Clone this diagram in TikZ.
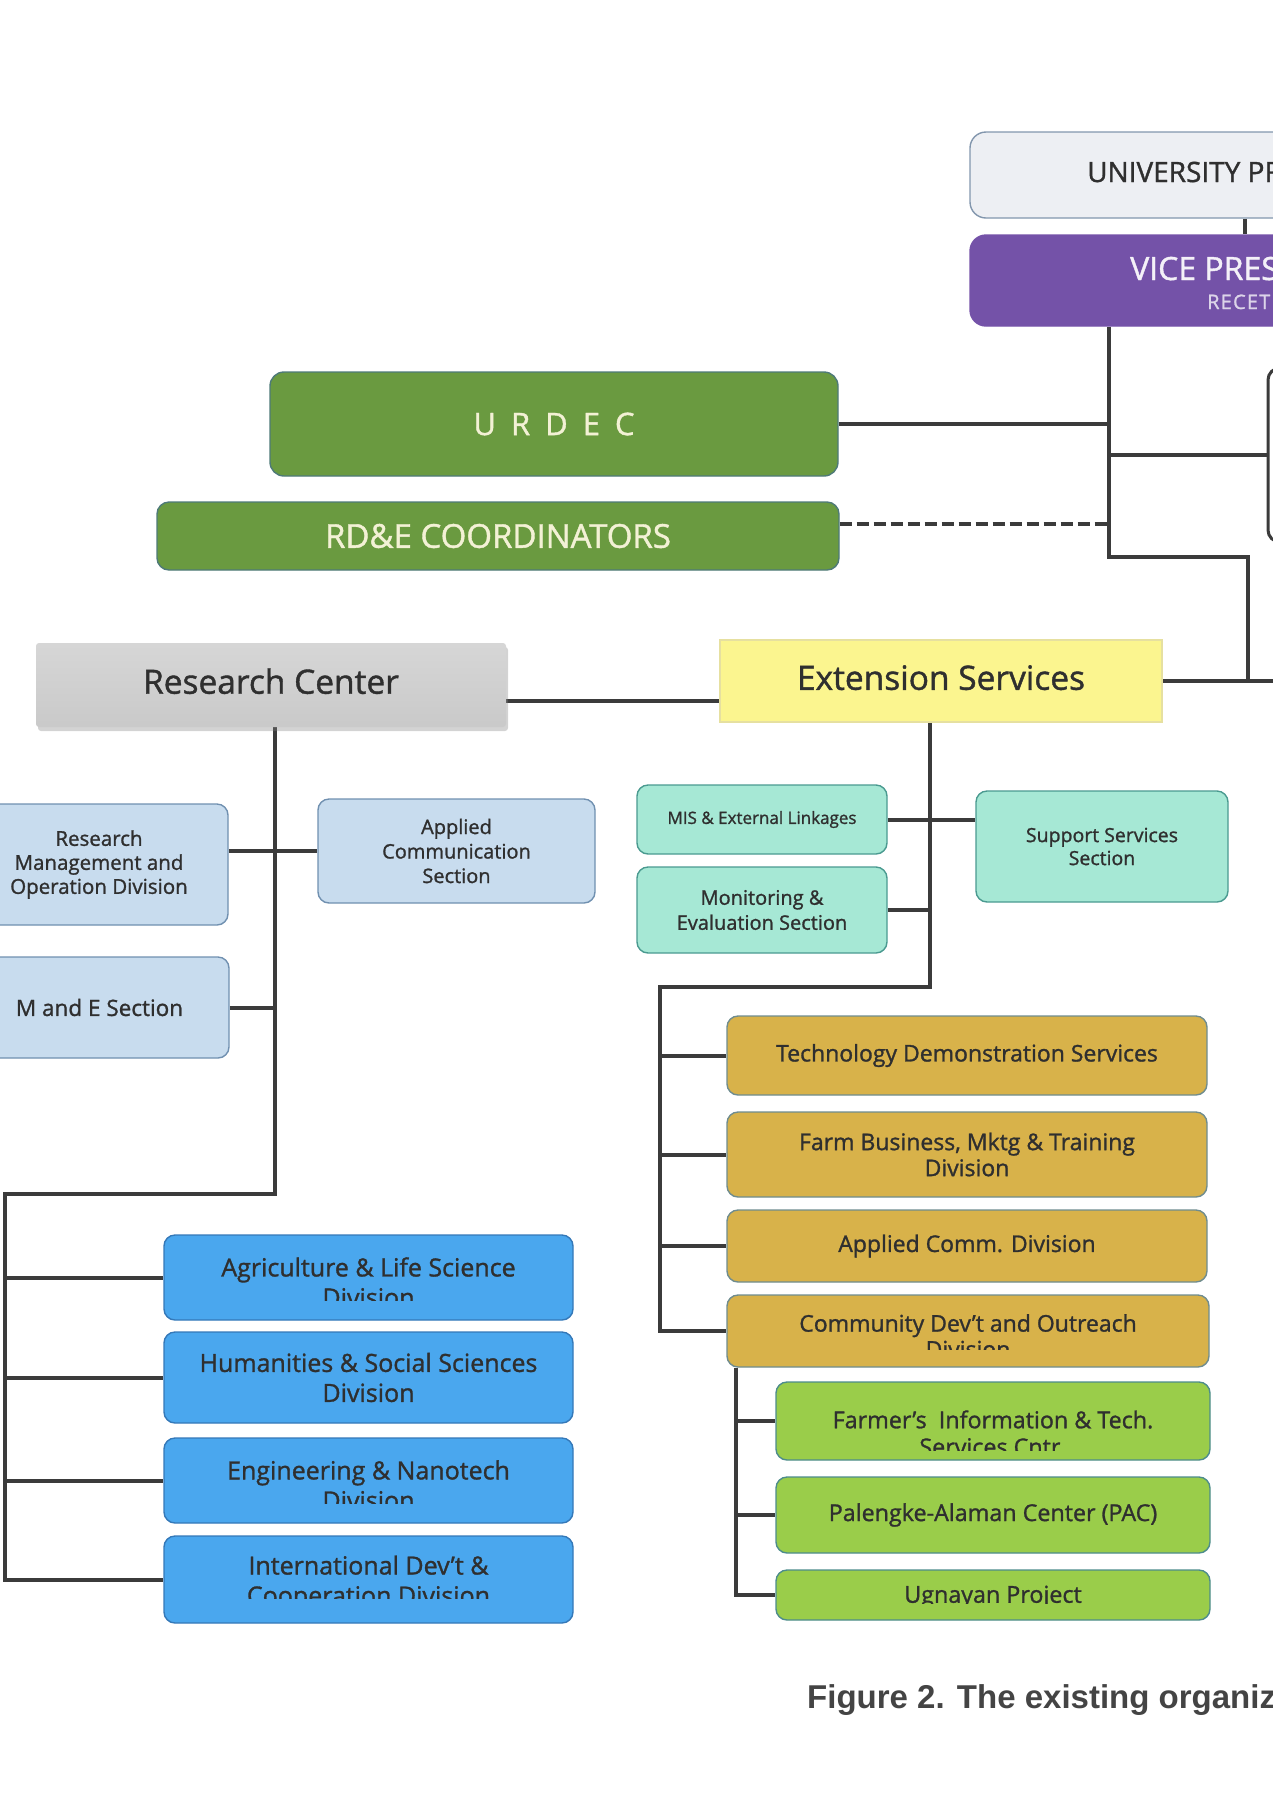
\documentclass[tikz,border=0pt]{standalone}
\usepackage{fontspec}
\setmainfont{Open Sans}[FakeBold=1.2]
\newfontfamily\capfont{Liberation Sans}
\usetikzlibrary{shadows,backgrounds}
\definecolor{txt}{HTML}{2F2F2F}
\definecolor{linec}{HTML}{3B3B3B}
\definecolor{univf}{HTML}{EDEFF3}
\definecolor{univd}{HTML}{8296AD}
\definecolor{vpf}{HTML}{7452A8}
\definecolor{grn}{HTML}{6A9A40}
\definecolor{grnd}{HTML}{4E7A78}
\definecolor{cream}{HTML}{F3F1D5}
\definecolor{extf}{HTML}{FBF58F}
\definecolor{extd}{HTML}{E6E0A0}
\definecolor{lbf}{HTML}{C8DCEE}
\definecolor{lbd}{HTML}{7090B0}
\definecolor{tlf}{HTML}{A6E8D5}
\definecolor{tld}{HTML}{4A9A90}
\definecolor{gdf}{HTML}{D8B24A}
\definecolor{gdd}{HTML}{6F8C8F}
\definecolor{gnf}{HTML}{9ACD4A}
\definecolor{gnd}{HTML}{4D8C8C}
\definecolor{blf}{HTML}{4AA7EE}
\definecolor{bld}{HTML}{3478B8}
\newcommand\fsz[2]{\fontsize{#1}{#2}\selectfont}
\tikzset{
  bx/.style={rectangle, rounded corners=11pt, draw, line width=1.4pt, inner sep=0pt, align=center, text=txt},
  conn/.style={draw=linec, line width=4pt},
  lightblue/.style={bx, fill=lbf, draw=lbd},
  teal/.style={bx, fill=tlf, draw=tld},
  gold/.style={bx, fill=gdf, draw=gdd, font=\fsz{23}{26}},
  lime/.style={bx, fill=gnf, draw=gnd, font=\fsz{23.3}{27}},
  bluebox/.style={bx, fill=blf, draw=bld, font=\fsz{25}{30}},
  greenbox/.style={bx, fill=grn, draw=grnd, rounded corners=14pt, text=cream},
  plain/.style={inner sep=0pt, align=center, text=txt},
}
\begin{document}
\begin{tikzpicture}[x=1pt,y=-1pt]
\useasboundingbox (0,0) rectangle (1273,1800);
\clip (0,0) rectangle (1273,1800);

% top boxes
\node[bx, fill=univf, draw=univd, rounded corners=16pt, minimum width=430pt, minimum height=86pt] (univ) at (1185,175) {};
\node[anchor=base west, inner sep=0pt, text=txt, font=\fsz{28}{30}] (univt) at (1087,182) {UNIVERSITY PRESIDENT};
\node[bx, fill=vpf, draw=vpf, rounded corners=16pt, minimum width=430pt, minimum height=91pt] (vp) at (1185,280.5) {};
\node[anchor=base west, inner sep=0pt, text=white!92!vpf, font=\fsz{32}{34}] (vpt) at (1130,280) {VICE PRESIDENT};
\node[anchor=base west, inner sep=0pt, text=white!75!vpf, font=\fsz{20}{22}\addfontfeature{LetterSpace=6}] (vpt2) at (1207,309) {RECET};
\node[bx, fill=white, draw=linec, line width=3pt, rounded corners=12pt, minimum width=132pt, minimum height=174pt] (rbox) at (1334,455) {};

\node[greenbox, minimum width=568pt, minimum height=104pt, font=\fsz{31}{34}] (urdec) at (554,424) {U\kern15pt R\kern15pt D\kern15pt E\kern15pt C};
\node[greenbox, rounded corners=12pt, minimum width=682pt, minimum height=68pt, font=\fsz{33}{36}] (rde) at (498,536) {RD\&E COORDINATORS};

\node[rectangle, rounded corners=3pt, inner sep=0pt, top color=gray!32, bottom color=gray!42, draw=none,
      drop shadow={opacity=0.35, shadow xshift=2pt, shadow yshift=-4pt},
      minimum width=470pt, minimum height=84pt, text=txt, font=\fsz{33.5}{36}] (rc) at (271,685) {\raisebox{8pt}{Research Center}};
\node[rectangle, inner sep=0pt, fill=extf, draw=extd, line width=1.2pt, minimum width=442pt, minimum height=82pt, text=txt, font=\fsz{33.5}{36}] (ext) at (941,681) {\raisebox{7pt}{Extension Services}};

% research center side
\node[lightblue, minimum width=258pt, minimum height=121pt, font=\fsz{20.5}{24}] (rmod) at (99,864.5) {Research\\Management and\\Operation Division};
\node[lightblue, minimum width=277pt, minimum height=104pt, font=\fsz{20}{24.5}] (acs) at (456.5,851) {Applied\\Communication\\Section};
\node[lightblue, minimum width=259pt, minimum height=101pt, font=\fsz{22.5}{26}] (mande) at (99.5,1007.5) {M and E Section};

\node[bluebox, minimum width=409pt, minimum height=85pt] (agri) at (368.5,1277.5) {};
\begin{scope}
\clip (160,1230) rectangle (580,1300);
\node[plain, font=\fsz{25}{30}] (agrit) at (368.5,1282) {Agriculture \& Life Science\\Division};
\end{scope}
\node[bluebox, minimum width=409pt, minimum height=91pt] (hum) at (368.5,1377.5) {Humanities \& Social Sciences\\Division};
\node[bluebox, minimum width=409pt, minimum height=85pt] (eng) at (368.5,1480.5) {};
\begin{scope}
\clip (160,1430) rectangle (580,1503);
\node[plain, font=\fsz{25}{30}] (engt) at (368.5,1485) {Engineering \& Nanotech\\Division};
\end{scope}
\node[bluebox, minimum width=409pt, minimum height=87pt] (intl) at (368.5,1579.5) {};
\begin{scope}
\clip (160,1530) rectangle (580,1598);
\node[plain, font=\fsz{25}{30}] (intlt) at (368.5,1583) {International Dev't \&\\Cooperation Division};
\end{scope}

% extension side
\node[teal, minimum width=250pt, minimum height=69pt, font=\fsz{17}{20}] (mis) at (762,819.5) {MIS \& External Linkages};
\node[teal, minimum width=250pt, minimum height=86pt, font=\fsz{20}{25}] (mon) at (762,910) {Monitoring \&\\Evaluation Section};
\node[teal, minimum width=252pt, minimum height=111pt, font=\fsz{19.5}{23}] (sss) at (1102,846.5) {Support Services\\Section};

\node[gold, minimum width=480pt, minimum height=79pt] (tds) at (967,1055.5) {Technology Demonstration Services};
\node[gold, minimum width=480pt, minimum height=85pt] (farm) at (967,1154.5) {Farm Business, Mktg \& Training\\Division};
\node[gold, minimum width=480pt, minimum height=72pt] (acd) at (967,1246) {Applied Comm. Division};
\node[gold, minimum width=482pt, minimum height=72pt] (comm) at (968,1331) {};
\begin{scope}
\clip (720,1290) rectangle (1215,1349);
\node[plain, font=\fsz{23}{26}] (commt) at (968,1336) {Community Dev't and Outreach\\Division};
\end{scope}

\node[lime, minimum width=434pt, minimum height=78pt] (fitsc) at (993,1421) {};
\begin{scope}
\clip (770,1378) rectangle (1215,1450);
\node[plain, font=\fsz{23.3}{27}] (fitsct) at (993,1433) {Farmer's\ \ Information \& Tech.\\Services Cntr.};
\end{scope}
\node[lime, minimum width=434pt, minimum height=76pt] (pac) at (993,1515) {Palengke-Alaman Center (PAC)};
\node[lime, minimum width=434pt, minimum height=50pt] (ugn) at (993,1595) {};
\begin{scope}
\clip (770,1566) rectangle (1215,1603);
\node[plain, font=\fsz{23.3}{27}] (ugnt) at (993,1597) {Ugnayan Project};
\end{scope}

\node[anchor=base west, inner sep=0pt, text=txt!90, font=\capfont\bfseries\fsz{33}{36}] (cap) at (807,1708) {Figure 2. The existing organization};

% connectors
\begin{scope}[on background layer]
\coordinate (ux) at (1245,0);
\coordinate (j1) at (1109,557);
\coordinate (j2) at (1248,557);
\coordinate (rend) at (1290,0);
\coordinate (dsh) at (1109,524);
\coordinate (rce) at (0,701);
\coordinate (rcx) at (275,1194);
\coordinate (lft) at (5,1194);
\coordinate (ex1) at (930,987);
\coordinate (ex2) at (660,987);
\coordinate (cx) at (736,0);
\draw[conn] (univ.south -| ux) -- (vp.north -| ux);
\draw[conn] (vp.south -| j1) -- (j1) -- (j2) -- (j2 |- ext.east);
\draw[conn] (ext.east) -- (ext.east -| rend);
\draw[conn] (urdec.east) -- (urdec.east -| j1);
\draw[conn, dash pattern=on 12pt off 5pt] (rde.east |- dsh) -- (dsh);
\draw[conn] (rbox.west -| j1) -- (rbox.west);
\draw[conn] (rc.east |- rce) -- (ext.west |- rce);
\draw[conn] (rc.south -| rcx) -- (rcx) -- (lft) -- (lft |- intl.west) -- (intl.west);
\draw[conn] (lft |- agri.west) -- (agri.west);
\draw[conn] (lft |- hum.west) -- (hum.west);
\draw[conn] (lft |- eng.west) -- (eng.west);
\draw[conn] (rmod.east |- acs.west) -- (acs.west);
\draw[conn] (mande.east) -- (mande.east -| rcx);
\draw[conn] (ext.south -| ex1) -- (ex1) -- (ex2) -- (ex2 |- comm.west) -- (comm.west);
\draw[conn] (ex2 |- tds.west) -- (tds.west);
\draw[conn] (ex2 |- farm.west) -- (farm.west);
\draw[conn] (ex2 |- acd.west) -- (acd.west);
\draw[conn] (mis.east) -- (mis.east -| sss.west);
\draw[conn] (mon.east) -- (mon.east -| ex1);
\draw[conn] (comm.south -| cx) -- (cx |- ugn.west) -- (ugn.west);
\draw[conn] (cx |- fitsc.west) -- (fitsc.west);
\draw[conn] (cx |- pac.west) -- (pac.west);
\end{scope}
\end{tikzpicture}
\end{document}
